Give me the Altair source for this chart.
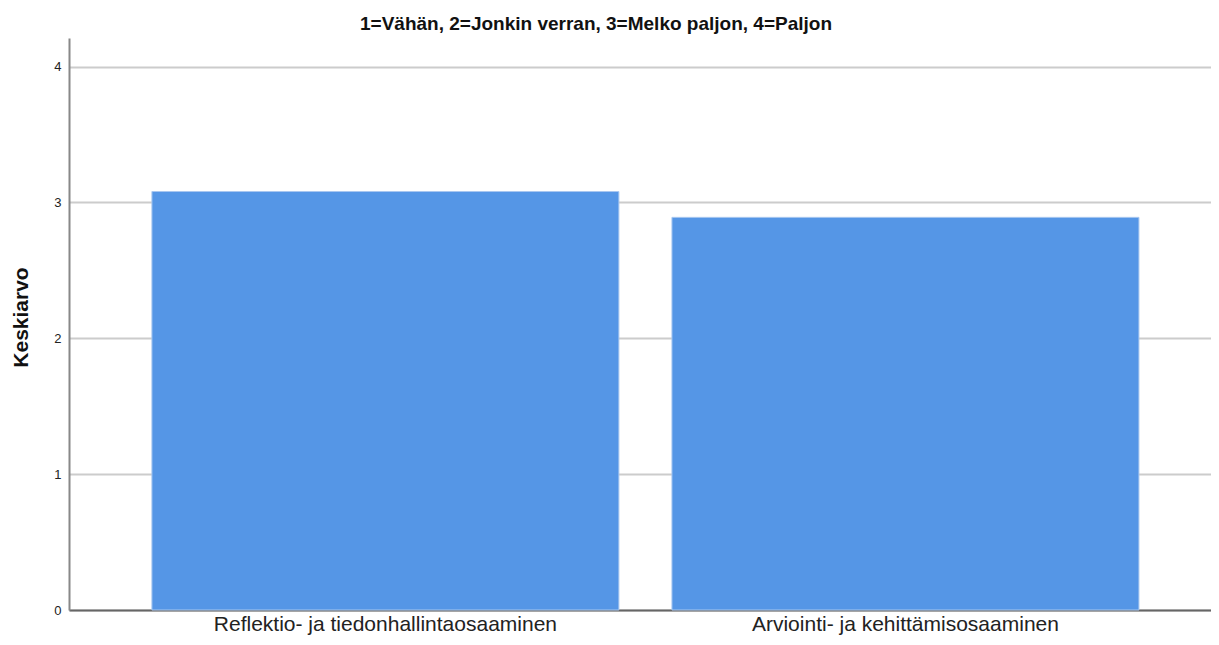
import altair as alt
import pandas as pd

categories = ["Reflektio- ja tiedonhallintaosaaminen", "Arviointi- ja kehittämisosaaminen"]
means = [3.08, 2.89]
y_ticks = [0, 1, 2, 3, 4]

df = pd.DataFrame({"cat": categories, "mean": means})

chart = alt.Chart(df).mark_bar(color="#5596E6", stroke="#a9c8f0", strokeWidth=1).encode(
    x=alt.X("cat:N", sort=categories, title=None,
            scale=alt.Scale(paddingInner=0.102, paddingOuter=0.149, align=0.535),
            axis=alt.Axis(labelAngle=0, labelFont="Liberation Sans", labelFontSize=21,
                          labelColor="#222222", ticks=False, labelPadding=3, labelLimit=0,
                          domainColor="#666666", domainWidth=2, grid=False)),
    y=alt.Y("mean:Q", title="Keskiarvo",
            scale=alt.Scale(domain=[0, 4.21], nice=False),
            axis=alt.Axis(values=y_ticks, format="d", labelFont="Liberation Sans", labelFontSize=13,
                          labelColor="#222222", ticks=False, labelPadding=8,
                          titleFont="Liberation Sans", titleFontSize=21, titleFontWeight="bold",
                          titleColor="#111111", titlePadding=22, titleY=279,
                          domainColor="#888888", domainWidth=2,
                          grid=True, gridColor="#cccccc", gridWidth=2)),
).properties(
    width=1142, height=572,
    title=alt.Title("1=Vähän, 2=Jonkin verran, 3=Melko paljon, 4=Paljon",
                    font="Liberation Sans", fontSize=19, fontWeight="bold", color="#111111",
                    anchor="middle", dx=-44, offset=4),
    autosize=alt.AutoSizeParams(type="none"),
    padding={"left": 61, "top": 30, "right": 0, "bottom": 27},
).configure_view(stroke=None)

chart.save("out.html", embed_options={"renderer": "svg", "actions": False})
